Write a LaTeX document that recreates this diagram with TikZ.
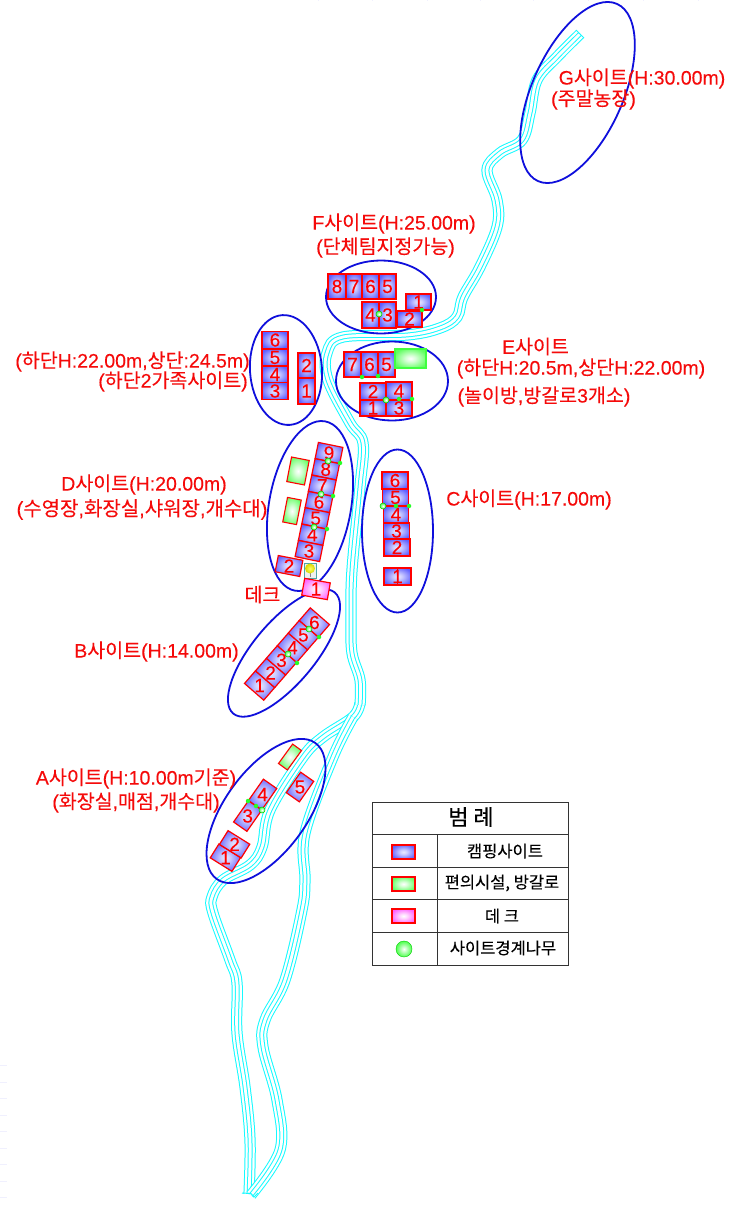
\documentclass[tikz,border=0pt]{standalone}
\usepackage{fontspec}
\setmainfont[FakeBold=0.12]{Liberation Sans}
\newfontfamily\kr[FakeBold=0.12]{Noto Sans CJK KR}
\newfontfamily\krb[FakeBold=0.25]{Noto Sans CJK KR}
\usetikzlibrary{shapes.geometric,shadings}
\definecolor{riv}{RGB}{20,250,255}
\definecolor{ell}{RGB}{15,15,220}
\definecolor{lab}{RGB}{245,10,10}
\pgfdeclareradialshading{cellshade}{\pgfpointorigin}{color(0bp)=(white!92!blue); color(8bp)=(white!80!blue); color(28bp)=(blue!62!white); color(50bp)=(blue!72!white); color(72bp)=(blue!75!white)}
\pgfdeclareradialshading{greenshade}{\pgfpointorigin}{color(0bp)=(white); color(8bp)=(white!85!green); color(28bp)=(green!62!white); color(50bp)=(green!75!white); color(72bp)=(green!80!white)}
\pgfdeclareradialshading{pinkshade}{\pgfpointorigin}{color(0bp)=(white); color(8bp)=(white!85!magenta); color(28bp)=(magenta!62!white); color(50bp)=(magenta!75!white); color(72bp)=(magenta!80!white)}
\newcommand\K[1]{{\kr #1}}
\tikzset{
  cellbox/.style={draw=red,line width=1.2pt,inner sep=0pt,shading=cellshade},
  greenbox/.style={draw=red,line width=1.1pt,inner sep=0pt,shading=greenshade},
  pinkbox/.style={draw=red,line width=1.2pt,inner sep=0pt,shading=pinkshade},
  num/.style={text=red,font=\fontsize{19}{19}\selectfont,inner sep=0pt},
  area/.style={draw=ell,line width=1.8pt,ellipse,inner sep=0pt},
  lbl/.style={text=lab,font=\fontsize{19.5}{20}\selectfont,inner sep=0pt},
  leg/.style={text=black,font=\fontsize{16.5}{17}\selectfont\krb,inner sep=0pt},
  bigdot/.style={circle,draw=green!80!black,line width=.5pt,minimum size=6pt,inner sep=0pt,inner color=white,outer color=green!70!white},
  smalldot/.style={circle,draw=none,minimum size=4.5pt,inner sep=0pt,fill=green!85!white},
  tick/.style={line width=.8pt,color=black!8!blue!6!white},
  grid/.style={draw=black!80,line width=1pt}
}
\newcommand\cellnode[8][cellbox]{\node[#1,minimum width=#5pt,minimum height=#6pt,rotate=#7] (#2) at (#3,#4) {};\node[num] (#2t) at (#2.center) {#8};}
\newcommand\rivpath[1]{%
  \draw[riv,line width=11.2pt] plot[smooth,tension=.6] coordinates {#1};
  \draw[white,line width=9.2pt] plot[smooth,tension=.6] coordinates {#1};
  \draw[riv,line width=4.8pt] plot[smooth,tension=.6] coordinates {#1};
  \draw[white,line width=2.8pt] plot[smooth,tension=.6] coordinates {#1};
}
\begin{document}
\begin{tikzpicture}[x=1pt,y=-1pt]
\useasboundingbox (0,0) rectangle (740,1208);
\fill[white] (0,0) rectangle (740,1208);
% faint marks at the edges
\foreach \yy in {1065,1082,1098,1115,1131,1148,1164,1181,1197}{\draw[tick] (0,\yy) -- (7,\yy);}
\foreach \xx in {318,372,427,480,533,588,643,698}{\draw[tick] (\xx,0) -- (\xx,1);}
% river
\rivpath{(249,1194) (250,1140) (245,1087) (237,1033) (237,983) (230,960) (213,913) (212,897) (223,880) (250,865) (262,847) (270,810) (303,757) (323,737) (353,717) (360,703)}
\rivpath{(251,1195) (280,1150) (277,1100) (263,1047) (265,1020) (285,980) (302,910) (305,880) (305,833) (333,757) (353,717)}
\rivpath{(580,34) (557,57) (537,80) (530,113) (522,140) (500,153) (487,170) (497,200) (497,227) (480,267) (463,297) (457,317) (440,328) (407,335) (343,337) (327,353) (328,380) (350,423) (363,443) (360,487) (352,570) (351,620) (352,653) (360,680) (360,705)}
\draw[riv,line width=1pt] (576,30) -- (584,38);
\draw[riv,line width=1pt] (242,1193) -- (251,1193.5) -- (254,1197) -- (258,1193);
% areas
\node[area,minimum width=91pt,minimum height=194pt,rotate=-24] (ag) at (577.5,92.5) {};
\node[area,minimum width=110pt,minimum height=73pt] (af) at (381,297) {};
\node[area,minimum width=72pt,minimum height=110pt,rotate=4] (al) at (286,370) {};
\node[area,minimum width=112pt,minimum height=79pt] (ae) at (392,381) {};
\node[area,minimum width=82pt,minimum height=172pt,rotate=-10] (ad) at (310,506) {};
\node[area,minimum width=71pt,minimum height=163pt] (ac) at (397.5,531) {};
\node[area,minimum width=158pt,minimum height=62pt,rotate=50] (ab) at (284,653) {};
\node[area,minimum width=168pt,minimum height=82pt,rotate=54] (aa) at (266,811) {};
% F
\cellnode{f8}{337}{286.5}{18}{25}{0}{8}
\cellnode{f7}{354}{286.5}{16}{25}{0}{7}
\cellnode{f6}{370.5}{286.5}{17}{25}{0}{6}
\cellnode{f5}{387.5}{286.5}{17}{25}{0}{5}
\cellnode{f4}{370.5}{315}{17}{26}{0}{4}
\cellnode{f3}{387.5}{315}{17}{26}{0}{3}
\cellnode{f1}{418.5}{302}{25}{16}{0}{1}
\cellnode{f2}{409.5}{319}{25}{16}{0}{2}
% left group
\cellnode{l6}{275}{340}{26}{16.5}{0}{6}
\cellnode{l5}{275}{357.5}{26}{17}{0}{5}
\cellnode{l4}{275}{374.5}{26}{17}{0}{4}
\cellnode{l3}{275}{391}{26}{16.5}{0}{3}
\cellnode{l2}{306.5}{365.5}{17}{25}{0}{2}
\cellnode{l1}{306.5}{391}{17}{26}{0}{1}
% E
\cellnode{e7}{352.5}{364.5}{17}{25}{0}{7}
\cellnode{e6}{369.5}{364.5}{17}{25}{0}{6}
\cellnode{e5}{386.5}{364.5}{17}{25}{0}{5}
\node[greenbox,draw=green!75!white,minimum width=31pt,minimum height=19pt] (eg) at (410.5,358.5) {};
\cellnode{e2}{373}{391.5}{26}{17}{0}{2}
\cellnode{e4}{399}{391}{26}{18}{0}{4}
\cellnode{e1}{373}{408}{26}{16}{0}{1}
\cellnode{e3}{399}{408}{26}{16}{0}{3}
% D
\cellnode{d9}{329}{453}{25}{16.5}{-11.5}{9}
\cellnode{d8}{325.7}{469.3}{25}{16.5}{-11.5}{8}
\cellnode{d7}{322.3}{485.7}{25}{16.5}{-11.5}{7}
\cellnode{d6}{319}{502}{25}{16.5}{-11.5}{6}
\cellnode{d5}{315.7}{518.3}{25}{16.5}{-11.5}{5}
\cellnode{d4}{312.3}{534.7}{25}{16.5}{-11.5}{4}
\cellnode{d3}{309}{551}{25}{16.5}{-11.5}{3}
\cellnode{d2}{289}{566}{25}{16.5}{-11}{2}
\node[greenbox,minimum width=18pt,minimum height=25pt,rotate=-11] (dg1) at (298,471) {};
\node[greenbox,minimum width=14pt,minimum height=25pt,rotate=-11] (dg2) at (292,511) {};
\node[draw=teal!70!white,line width=.8pt,fill=black!6,minimum width=12pt,minimum height=15pt,inner sep=0pt] (dt) at (310,570.5) {};
\draw[black!45,line width=1pt] (310,570) -- (310,577);
\node[circle,inner color=yellow!60!white,outer color=yellow!70!olive,minimum size=10pt,inner sep=0pt] (dtc) at (310,568.5) {};
\cellnode[pinkbox]{dk}{316}{589}{26}{17}{-10}{1}
% C
\cellnode{c6}{395}{480.5}{26}{17}{0}{6}
\cellnode{c5}{395.5}{497.5}{25.5}{17}{0}{5}
\cellnode{c4}{396}{514.5}{25.5}{17}{0}{4}
\cellnode{c3}{396.5}{531}{26}{16}{0}{3}
\cellnode{c2}{397}{547.5}{26}{17}{0}{2}
\cellnode{c1}{397.5}{576.5}{27}{17}{0}{}
\draw[red,line width=1pt] (c1.north) -- (c1.south);
\node[num] (c1t) at (c1.center) {1};
% B
\cellnode{b1}{259.6}{685.5}{16.7}{25.5}{49}{1}
\cellnode{b2}{270.6}{672.9}{16.7}{25.5}{49}{2}
\cellnode{b3}{281.5}{660.3}{16.7}{25.5}{49}{3}
\cellnode{b4}{292.5}{647.7}{16.7}{25.5}{49}{4}
\cellnode{b5}{303.4}{635.1}{16.7}{25.5}{49}{5}
\cellnode{b6}{314.4}{622.5}{16.7}{25.5}{49}{6}
% A
\cellnode{a1}{225.4}{857.7}{25.6}{16.2}{-32}{1}
\cellnode{a2}{234.6}{844.3}{25.6}{16.2}{-32}{2}
\cellnode{a3}{247.7}{816}{16.3}{26}{-35}{3}
\cellnode{a4}{262.6}{794.5}{16.3}{26}{-35}{4}
\cellnode{a5}{300}{787}{16}{25}{-35}{5}
\node[greenbox,minimum width=11pt,minimum height=24pt,rotate=-36] (ag5) at (290,757) {};
% boundary trees
\foreach \px/\py in {379/314,386/400,328/461,321/494,314/527,383/506,309/629,288/654,262/810}{\node[bigdot] at (\px,\py) {};}
\foreach \px/\py in {422/310,362/377,378/376,399/399,412/399,340/463,333/496,327/529,396/506,409/506,319/637,297/663,248/801,256/806}{\node[smalldot] at (\px,\py) {};}
% labels
\node[lbl] (tg1) at (642,78.5) {G\K{사이트}(H:30.00m)};
\node[lbl] (tg2) at (593.5,99.5) {(\K{주말농장})};
\node[lbl] (tf1) at (394,223.5) {F\K{사이트}(H:25.00m)};
\node[lbl] (tf2) at (385.5,247.5) {(\K{단체팀지정가능})};
\node[lbl] (tl1) at (132.5,361.5) {(\K{하단}H:22.00m,\K{상단}:24.5m)};
\node[lbl] (tl2) at (173,381.5) {(\K{하단}2\K{가족사이트})};
\node[lbl] (te1) at (535.5,346.5) {E\K{사이트}};
\node[lbl] (te2) at (581,368.5) {(\K{하단}H:20.5m,\K{상단}H:22.00m)};
\node[lbl] (te3) at (544,396.5) {(\K{놀이방},\K{방갈로}3\K{개소})};
\node[lbl] (td1) at (144,484.5) {D\K{사이트}(H:20.00m)};
\node[lbl,font=\fontsize{20}{21}\selectfont] (td2) at (142,509.5) {(\K{수영장},\K{화장실},\K{샤워장},\K{개수대})};
\node[lbl] (tc1) at (529,499.5) {C\K{사이트}(H:17.00m)};
\node[lbl] (tk) at (262.5,594.5) {\K{데크}};
\node[lbl] (tb1) at (156.5,651.5) {B\K{사이트}(H:14.00m)};
\node[lbl] (ta1) at (136,778.5) {A\K{사이트}(H:10.00m\K{기준})};
\node[lbl] (ta2) at (136,802.5) {(\K{화장실},\K{매점},\K{개수대})};
% legend
\draw[grid] (372,802) rectangle (568,965);
\draw[grid] (372,834) -- (568,834) (372,867) -- (568,867) (372,899) -- (568,899) (372,932) -- (568,932);
\draw[grid] (437,834) -- (437,965);
\node[text=black,font=\fontsize{22}{22}\selectfont\krb,inner sep=0pt] (lt) at (471,817) {범 례};
\node[cellbox,minimum width=23pt,minimum height=14pt] (li1) at (403.5,852) {};
\node[greenbox,minimum width=23pt,minimum height=14pt] (li2) at (403.5,884) {};
\node[pinkbox,minimum width=23pt,minimum height=14pt] (li3) at (403.5,916) {};
\node[circle,draw=green!80!black,line width=.4pt,minimum size=16pt,inner sep=0pt,inner color=white,outer color=green!70!white] (li4) at (404,949) {};
\node[leg] (lx1) at (505,851) {캠핑사이트};
\node[leg] (lx2) at (502,883) {편의시설, 방갈로};
\node[leg] (lx3) at (502,916) {데 크};
\node[leg] (lx4) at (503,948) {사이트경계나무};
\end{tikzpicture}
\end{document}
